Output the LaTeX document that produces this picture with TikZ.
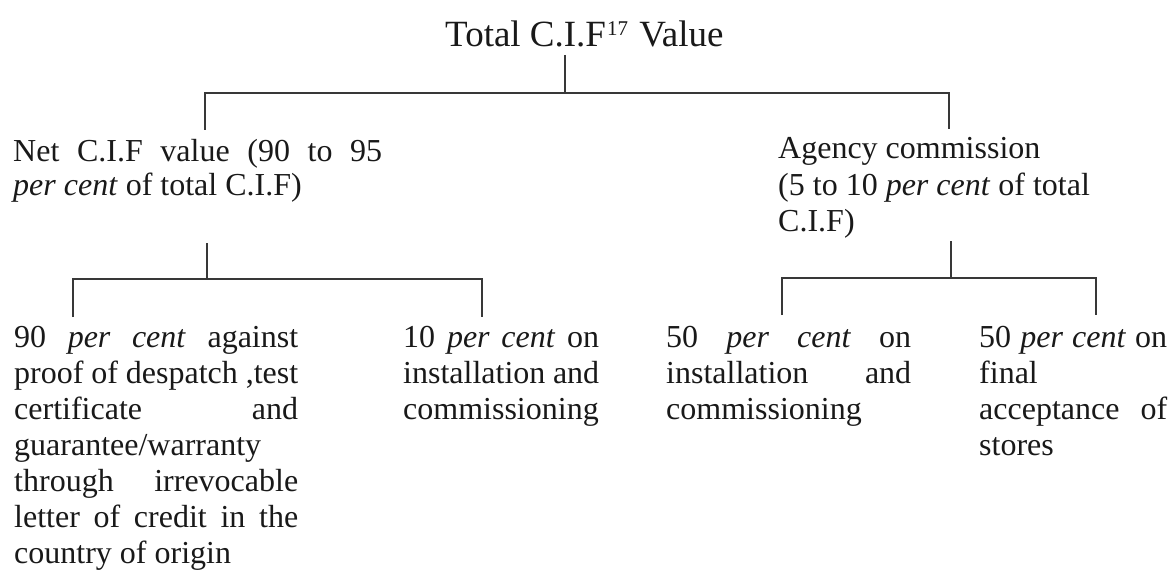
\documentclass[tikz,border=0pt]{standalone}
\usepackage{fontspec}
\setmainfont{Liberation Serif}
\newcommand{\jus}[2]{\hbox to #1{\spaceskip=0.25em plus 1fill minus 0.1em\relax #2}}
\newcommand{\nat}[1]{\hbox{#1}}
\begin{document}
\begin{tikzpicture}[x=1pt,y=-1pt,
  txt/.style={inner sep=0pt, anchor=base west, font=\fontsize{32}{36}\selectfont, text=black!90},
  conn/.style={draw=black!78, line width=1.4pt}]
\useasboundingbox (0,0) rectangle (1174,572);

% texts
\node[txt, font=\fontsize{37}{40}\selectfont] (title) at (445,47) {Total C.I.F\kern1pt\raisebox{11pt}{\fontsize{21}{21}\selectfont 17}\kern2pt{} Value};
\node[txt] (net) at (13,162) {\vtop{\baselineskip=34pt
  \jus{369pt}{Net C.I.F value (90 to 95}
  \nat{\textit{per cent} of total C.I.F)}}};
\node[txt] (agency) at (778,159) {\vtop{\baselineskip=36.5pt
  \nat{Agency commission}
  \nat{(5 to 10 \textit{per cent} of total}
  \nat{C.I.F)}}};
\node[txt] (boxa) at (14,347) {\vtop{\baselineskip=36pt
  \jus{284pt}{90 \textit{per cent} against}
  \jus{284pt}{proof of despatch ,test}
  \jus{284pt}{certificate and}
  \nat{guarantee/warranty}
  \jus{284pt}{through irrevocable}
  \jus{284pt}{letter of credit in the}
  \nat{country of origin}}};
\node[txt] (boxb) at (403,347) {\vtop{\baselineskip=36pt
  \jus{196pt}{10 \textit{per cent} on}
  \jus{196pt}{installation and}
  \nat{commissioning}}};
\node[txt] (boxc) at (666,347) {\vtop{\baselineskip=36pt
  \jus{245pt}{50 \textit{per cent} on}
  \jus{245pt}{installation and}
  \nat{commissioning}}};
\node[txt] (boxd) at (979,347) {\vtop{\baselineskip=36pt
  \jus{188pt}{50 \textit{per cent} on}
  \nat{final}
  \jus{188pt}{acceptance of}
  \nat{stores}}};

% junction coordinates
\coordinate (t-s) at (565,55);   \coordinate (t-j) at (565,93);
\coordinate (l1-top) at (205,93); \coordinate (l1-end) at (205,130);
\coordinate (r1-top) at (949,93); \coordinate (r1-end) at (949,129);
\coordinate (n-s) at (207,243);  \coordinate (n-j) at (207,279);
\coordinate (a-top) at (73,279); \coordinate (a-end) at (73,317);
\coordinate (b-top) at (482,279); \coordinate (b-end) at (482,317);
\coordinate (g-s) at (951,241);  \coordinate (g-j) at (951,278);
\coordinate (c-top) at (782,278); \coordinate (c-end) at (782,315);
\coordinate (d-top) at (1096,278); \coordinate (d-end) at (1096,315);

% connectors
\draw[conn] (t-s) -- (t-j);
\draw[conn] (l1-end) -- (l1-top) -- (r1-top) -- (r1-end);
\draw[conn] (n-s) -- (n-j);
\draw[conn] (a-end) -- (a-top) -- (b-top) -- (b-end);
\draw[conn] (g-s) -- (g-j);
\draw[conn] (c-end) -- (c-top) -- (d-top) -- (d-end);
\end{tikzpicture}
\end{document}
